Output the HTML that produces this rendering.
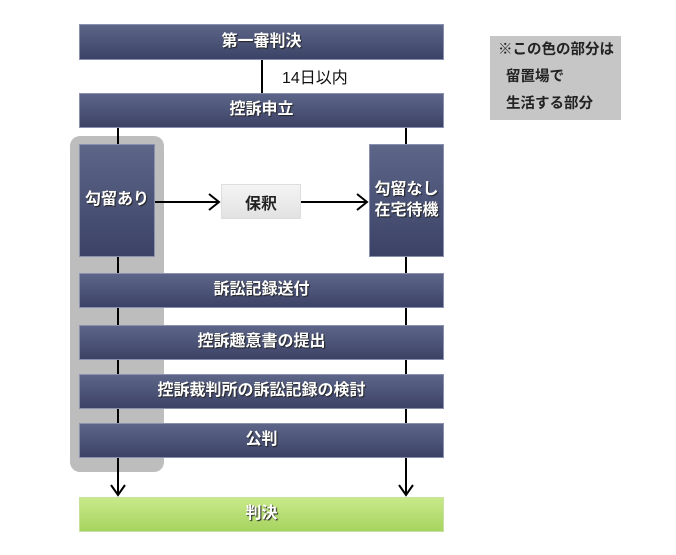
<!DOCTYPE html>
<html><head><meta charset="utf-8"><style>
*{margin:0;padding:0;box-sizing:border-box}
body{width:676px;height:555px;background:#fff;position:relative;overflow:hidden;font-family:"Liberation Sans","Noto Sans CJK JP",sans-serif}
.b{position:absolute;background:linear-gradient(#5d6688,#3b4266);color:#fff;font-weight:bold;font-size:16px;display:flex;align-items:center;justify-content:center;text-align:center;text-shadow:1px 1px 1px #222;border:1px solid #8a90b0;line-height:1.3}
.g{position:absolute;background:#bdbdbd;border-radius:10px}
</style></head><body>
<div class="g" style="left:70px;top:136px;width:94px;height:336px"></div>
<svg width="676" height="555" style="position:absolute;left:0;top:0">
<g stroke="#000" stroke-width="2" fill="none">
<line x1="262" y1="60" x2="262" y2="93"/>
<line x1="118" y1="128" x2="118" y2="495"/>
<line x1="406" y1="128" x2="406" y2="495"/>
<line x1="155" y1="202" x2="219" y2="202"/>
<line x1="301" y1="202" x2="367" y2="202"/>
<polyline points="209,194 219,202 209,210"/>
<polyline points="357,194 367,202 357,210"/>
<polyline points="111,485 118,495 125,485"/>
<polyline points="399,485 406,495 413,485"/>
</g></svg>
<div class="b" style="left:79px;top:24px;width:365px;height:36px">第一審判決</div>
<div style="position:absolute;left:282px;top:64px;font-size:16px;color:#111">14日以内</div>
<div class="b" style="left:79px;top:93px;width:365px;height:35px">控訴申立</div>
<div class="b" style="left:79px;top:144px;width:76px;height:113px">勾留あり</div>
<div style="position:absolute;left:221px;top:184px;width:80px;height:35px;background:linear-gradient(#f4f4f4,#e2e2e2);border:1px solid #ddd;display:flex;align-items:center;justify-content:center;font-size:16px;font-weight:bold;color:#222">保釈</div>
<div class="b" style="left:369px;top:144px;width:75px;height:113px">勾留なし<br>在宅待機</div>
<div class="b" style="left:79px;top:273px;width:365px;height:35px">訴訟記録送付</div>
<div class="b" style="left:79px;top:325px;width:365px;height:35px">控訴趣意書の提出</div>
<div class="b" style="left:79px;top:374px;width:365px;height:35px">控訴裁判所の訴訟記録の検討</div>
<div class="b" style="left:79px;top:423px;width:365px;height:35px">公判</div>
<div class="b" style="left:79px;top:497px;width:365px;height:35px;background:linear-gradient(#c9e98a,#a6d460);border-color:#c8e0a0">判決</div>
<div style="position:absolute;left:490px;top:36px;width:131px;height:84px;background:#c6c6c6;font-size:14.5px;font-weight:bold;color:#222;line-height:27px;padding:1px 0 0 8px;white-space:nowrap">※この色の部分は<br>&nbsp;&nbsp;留置場で<br>&nbsp;&nbsp;生活する部分</div>
</body></html>
